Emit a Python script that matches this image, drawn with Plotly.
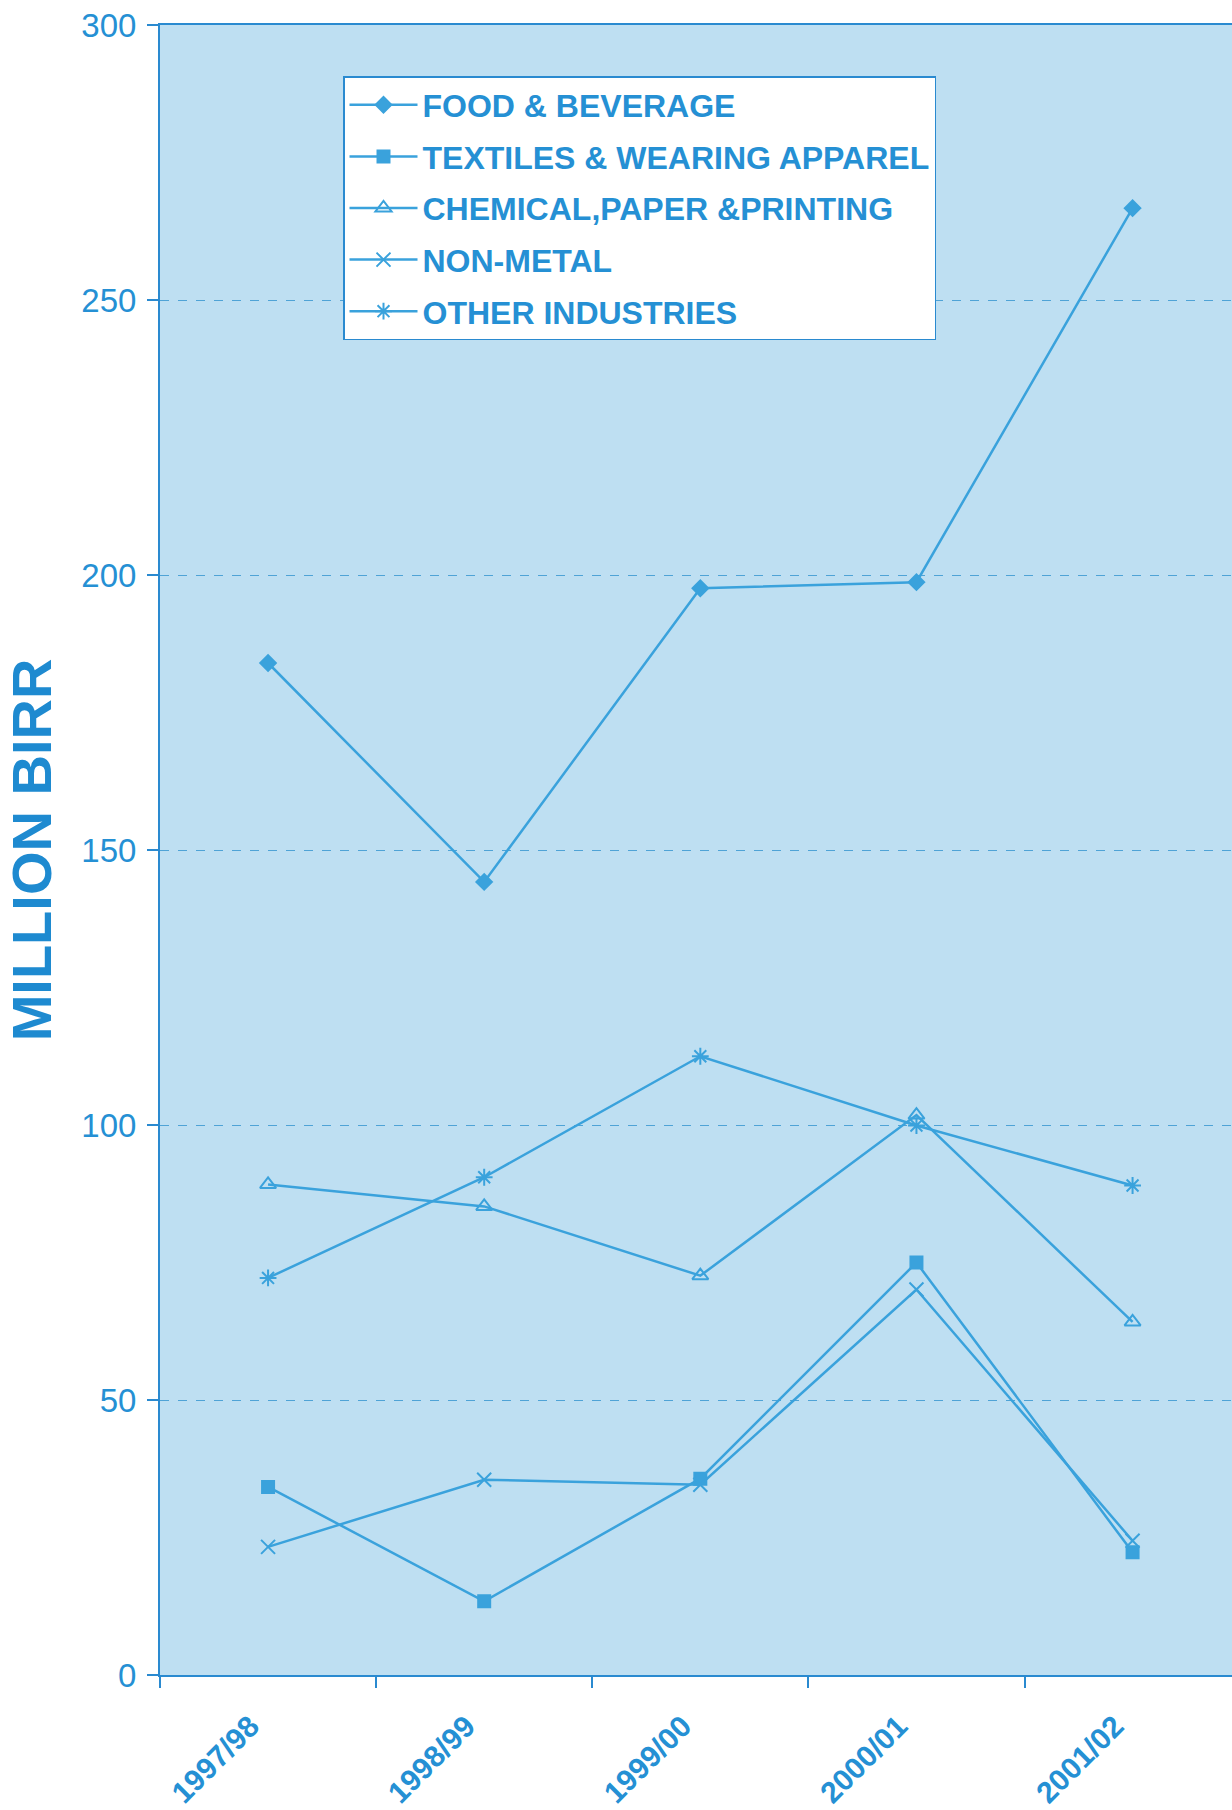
import plotly.graph_objects as go

years = ["1997/98", "1998/99", "1999/00", "2000/01", "2001/02"]
food_beverage = [184.0, 144.2, 197.6, 198.7, 266.7]
textiles = [34.2, 13.4, 35.7, 75.0, 22.3]
chemical = [89.2, 85.2, 72.6, 101.8, 64.2]
non_metal = [23.3, 35.5, 34.6, 70.1, 24.4]
other_industries = [72.2, 90.5, 112.5, 99.9, 89.0]

names = ["FOOD & BEVERAGE", "TEXTILES & WEARING APPAREL",
         "CHEMICAL,PAPER &PRINTING", "NON-METAL", "OTHER INDUSTRIES"]
series = [food_beverage, textiles, chemical, non_metal, other_industries]
y_ticks = [0, 50, 100, 150, 200, 250, 300]

LINE = "#3aa2dc"
TEXT = "#2590d4"
AXIS = "#2a8ad0"
symbols = ["diamond", "square", "triangle-up-open", "x-thin-open", "asterisk-open"]
sizes = [12, 12, 14, 14, 14]

fig = go.Figure()
for i, (n, s) in enumerate(zip(names, series)):
    fig.add_trace(go.Scatter(
        x=years, y=s, name=n, mode="lines+markers", legendgroup=f"g{i}",
        line=dict(color=LINE, width=2.5),
        marker=dict(symbol=symbols[i], size=sizes[i], color=LINE,
                    line=dict(color=LINE, width=2)),
    ))

L, R, T, B = 160, 0, 25, 135
PW = 1232 - L - R
PH = 1810 - T - B

fig.update_layout(
    width=1232, height=1810,
    margin=dict(l=L, r=R, t=T, b=B, autoexpand=False),
    paper_bgcolor="white",
    plot_bgcolor="#bedff2",
    font=dict(family="Liberation Sans, Arial, sans-serif", color=TEXT),
    legend=dict(
        x=(343 - L) / PW, xanchor="left",
        y=(1810 - B - 76) / PH, yanchor="top",
        bgcolor="white", bordercolor=AXIS, borderwidth=1.5,
        font=dict(size=32, weight="bold", color=TEXT),
        traceorder="grouped", tracegroupgap=7, itemwidth=68,
    ),
    showlegend=True,
)
fig.update_xaxes(
    type="category", range=[-0.5, 4.46], automargin=False,
    tickmode="array", tickvals=years, ticktext=[y + "\u00a0\u00a0\u00a0" for y in years],
    tickson="boundaries", ticks="outside", ticklen=11, tickcolor=AXIS, tickwidth=1.5,
    showgrid=False, showline=True, linecolor=AXIS, linewidth=2, mirror=True,
    tickangle=-45, ticklabelstandoff=2,
    tickfont=dict(size=30, weight="bold", color=TEXT),
)
fig.update_yaxes(
    range=[0, 300], tickvals=y_ticks, ticks="outside", ticklen=11, tickcolor=AXIS,
    tickwidth=1.5, showline=True, linecolor=AXIS, linewidth=2, mirror=True,
    showgrid=True, gridcolor="#4fa3d6", griddash="dash", gridwidth=1,
    zeroline=False, automargin=False, ticklabelstandoff=4,
    tickfont=dict(size=33, color=TEXT),
    title=dict(text="MILLION BIRR", font=dict(size=56, weight="bold", color="#1e8ad0"),
               standoff=29),
)

fig.write_html(
    "out.html",
    config={"displayModeBar": False},
    post_script="document.body.style.margin='0';document.body.style.overflow='hidden';",
)
